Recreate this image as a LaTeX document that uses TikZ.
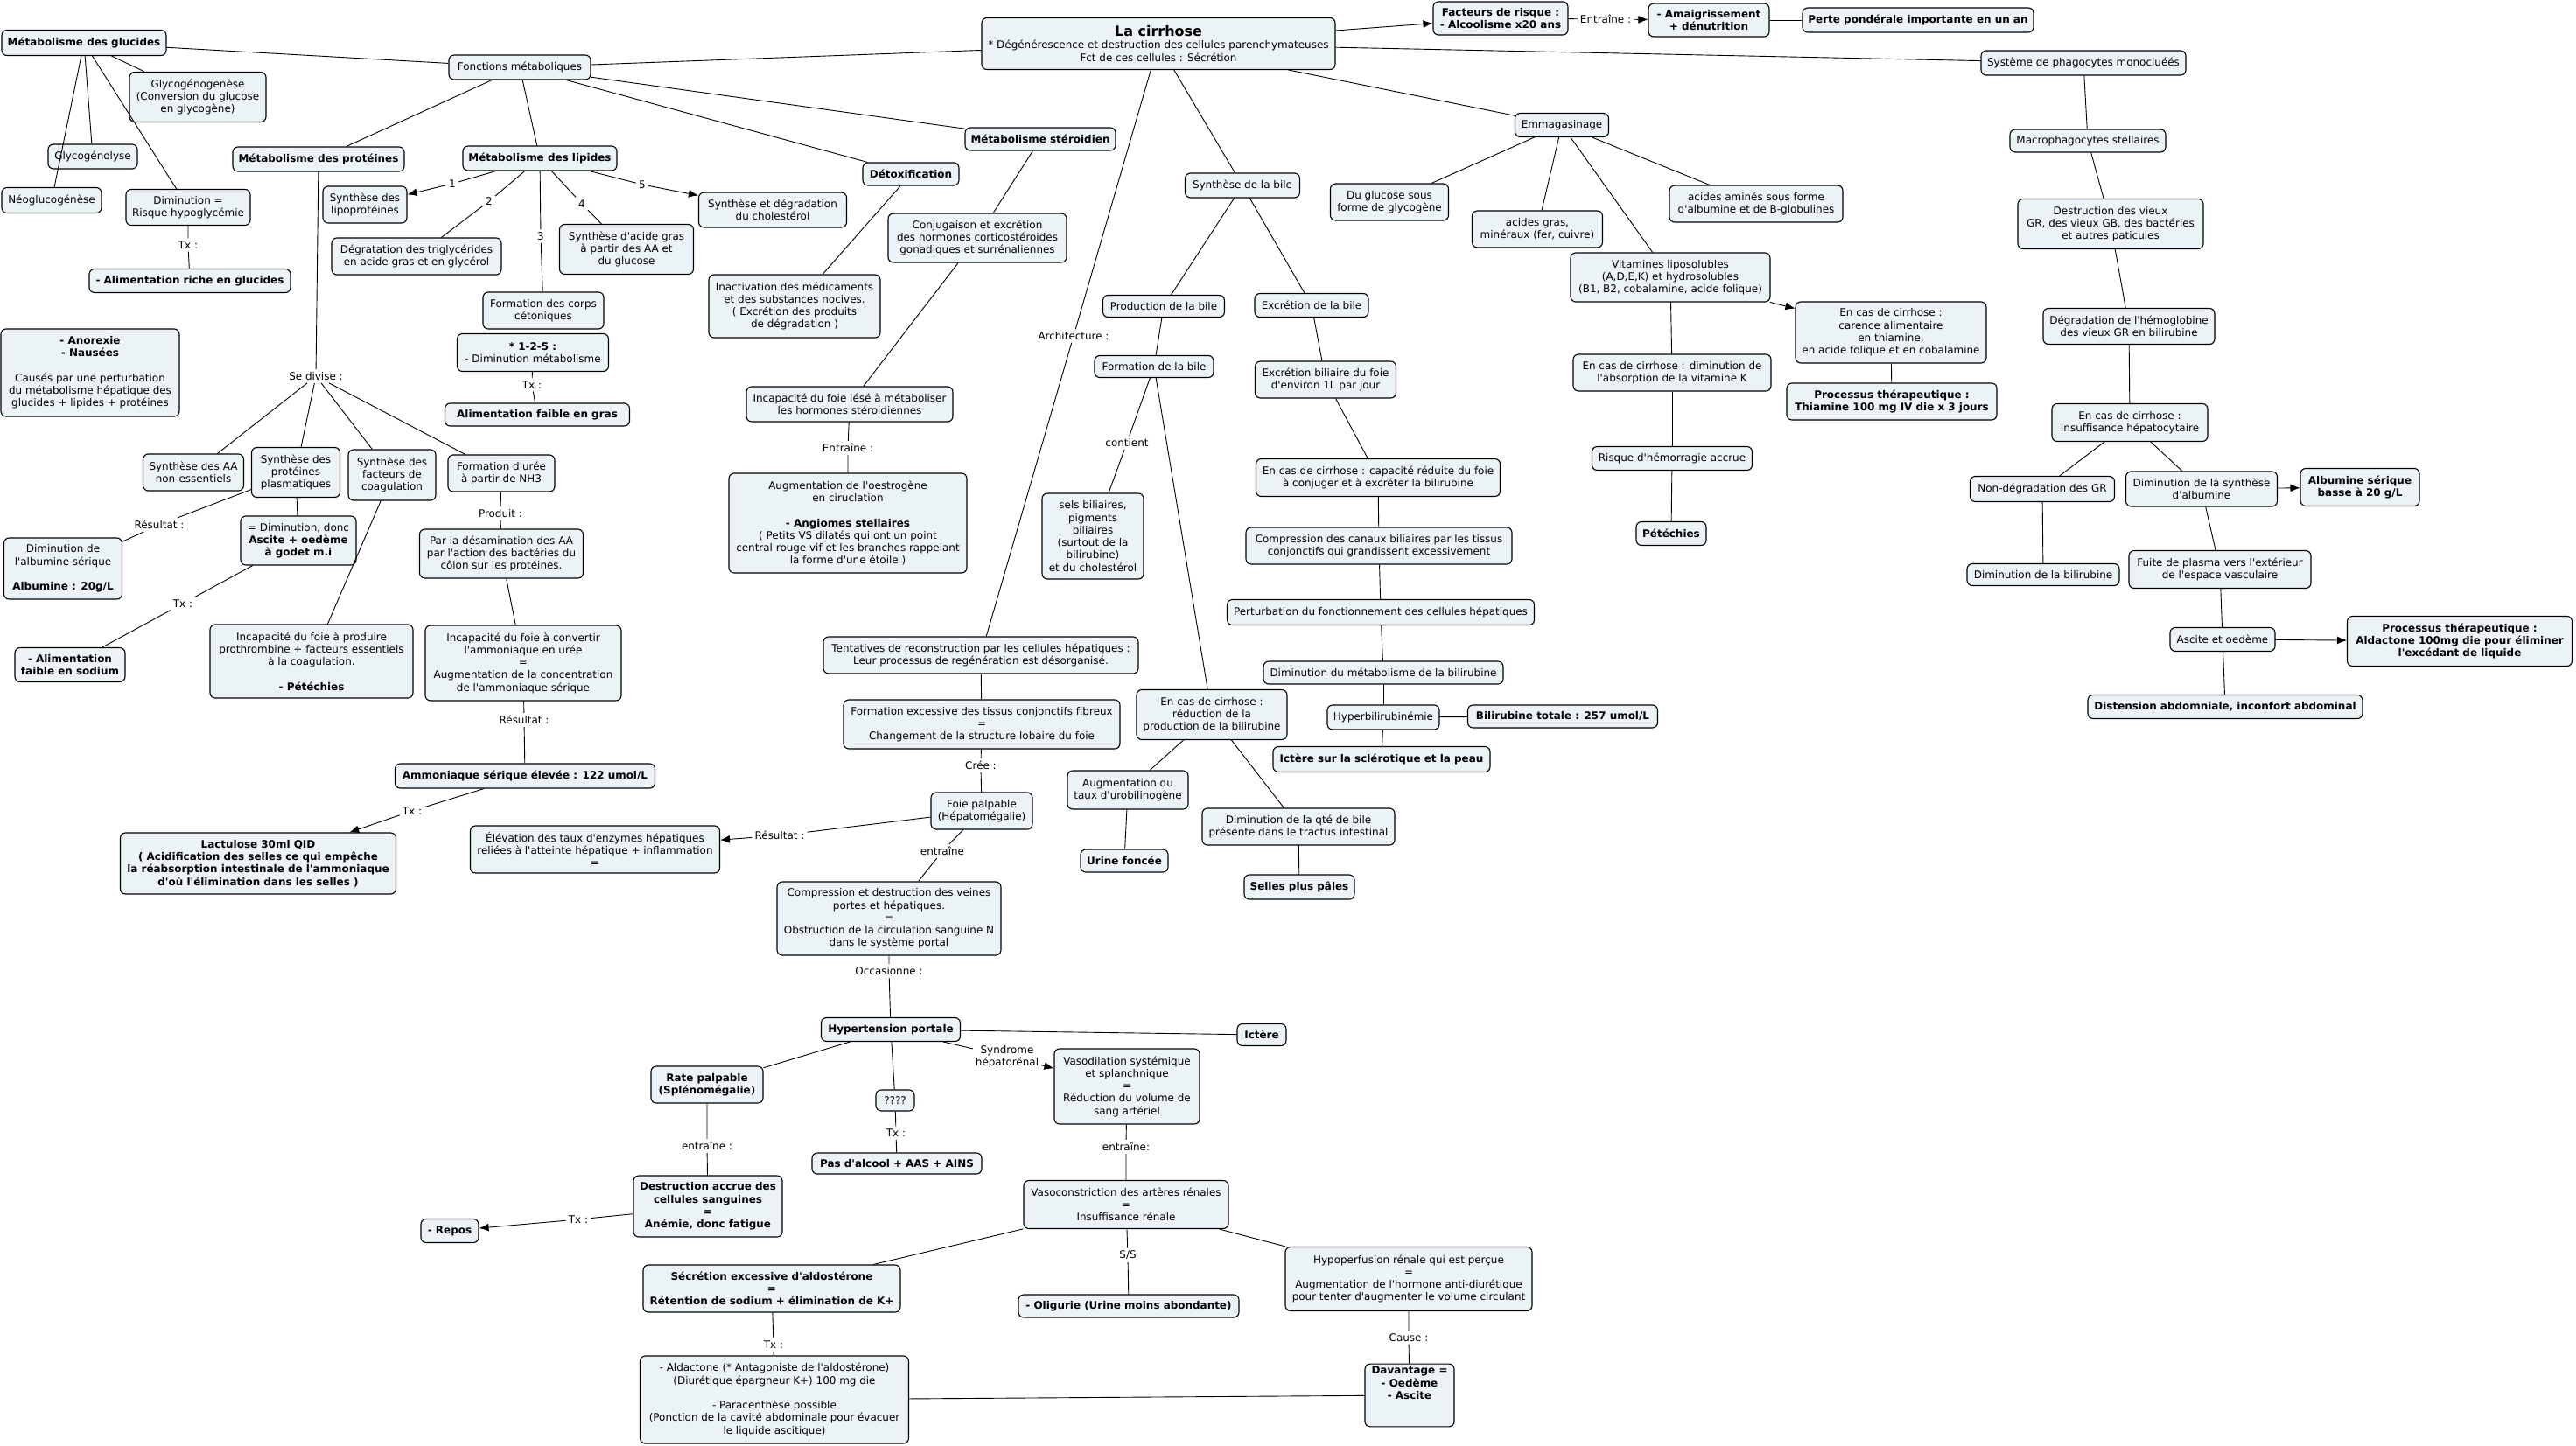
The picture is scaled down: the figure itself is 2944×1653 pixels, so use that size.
\documentclass[tikz,border=0pt]{standalone}
\usepackage{fontspec}
\setmainfont{DejaVu Sans}[Ligatures=TeXOff]
\usetikzlibrary{arrows.meta}
\definecolor{boxfill}{RGB}{236,243,246}
\newcommand\mapfont{\fontsize{12}{14.3}\selectfont}
\begin{document}
\begin{tikzpicture}[x=1bp,y=-1bp,
  box/.style={draw, line width=1.1bp, rounded corners=6bp, fill=boxfill, align=center,
              inner xsep=5bp, inner ysep=3bp, font=\mapfont},
  bbox/.style={box, font=\mapfont\bfseries},
  wh/.style n args={2}{minimum width=#1bp, minimum height=#2bp},
  lab/.style={inner sep=3bp, align=center, font=\mapfont},
  conn/.style={line width=0.9bp},
  arr/.style={conn, -{Latex[length=11bp,width=9bp]}}]
\fill[white] (0,0) rectangle (2944,1653);
\useasboundingbox (0,0) rectangle (2944,1653);

% ---------- left part ----------
\node[bbox, wh={188}{29}] (glu) at (96,49) {Métabolisme des glucides};
\node[box, wh={162}{28}] (fonct) at (594,77) {Fonctions métaboliques};
\node[box, wh={156}{57}] (ggen) at (226,111) {Glycogénogenèse\\(Conversion du glucose\\en glycogène)};
\node[box, wh={102}{28}] (glys) at (106,179) {Glycogénolyse};
\node[box, wh={114}{29}] (neo) at (59,229) {Néoglucogénèse};
\node[box, wh={142}{41}] (drisk) at (215,237) {Diminution =\\Risque hypoglycémie};
\node[lab] (ltxa) at (215,280) {Tx :};
\node[bbox, wh={230}{27}] (agluc) at (217,321) {- Alimentation riche en glucides};
\node[box, wh={204}{100}] (anor) at (103,426) {\textbf{- Anorexie}\\\textbf{- Nausées}\\[14.3bp]Causés par une perturbation\\du métabolisme hépatique des\\glucides + lipides + protéines};
\node[bbox, wh={196}{28}] (prot) at (364,182) {Métabolisme des protéines};
\node[bbox, wh={176}{28}] (lip) at (617,181) {Métabolisme des lipides};
\node[box, wh={96}{42}] (lipo) at (417,234) {Synthèse des\\lipoprotéines};
\node[box, wh={194}{42}] (trig) at (476,293) {Dégratation des triglycérides\\en acide gras et en glycérol};
\node[box, wh={153}{57}] (agras) at (716,285) {Synthèse d'acide gras\\à partir des AA et\\du glucose};
\node[box, wh={169}{40}] (chol) at (883,240) {Synthèse et dégradation\\du cholestérol};
\node[box, wh={138}{42}] (corps) at (621,355) {Formation des corps\\cétoniques};
\node[box, wh={173}{43}] (c125) at (609,403) {\textbf{* 1-2-5 :}\\- Diminution métabolisme};
\node[lab] (ltxb) at (608,440) {Tx :};
\node[bbox, wh={211}{26}] (agras2) at (614,474) {Alimentation faible en gras};
\node[lab] (lone) at (517,210) {1};
\node[lab] (ltwo) at (559,230) {2};
\node[lab] (lthree) at (618,270) {3};
\node[lab] (lfour) at (665,233) {4};
\node[lab] (lfive) at (734,211) {5};
\node[lab] (ldiv) at (361,430) {Se divise :};
\node[box, wh={115}{42}] (aane) at (221,540) {Synthèse des AA\\non-essentiels};
\node[box, wh={101}{57}] (pplas) at (338,540) {Synthèse des\\protéines\\plasmatiques};
\node[box, wh={100}{58}] (fcoag) at (448,543) {Synthèse des\\facteurs de\\coagulation};
\node[box, wh={122}{42}] (uree) at (573,541) {Formation d'urée\\à partir de NH3};
\node[lab] (lresa) at (182,600) {Résultat :};
\node[box, wh={135}{70}] (alb) at (72,650) {Diminution de\\l'albumine sérique\\[14.3bp]\textbf{Albumine : 20g/L}};
\node[box, wh={132}{56}] (asc) at (341,618) {= Diminution, donc\\\textbf{Ascite + oedème}\\\textbf{à godet m.i}};
\node[lab] (ltxc) at (209,690) {Tx :};
\node[bbox, wh={126}{39}] (asod) at (80,760) {- Alimentation\\faible en sodium};
\node[lab] (lprod) at (572,587) {Produit :};
\node[box, wh={187}{56}] (desam) at (573,633) {Par la désamination des AA\\par l'action des bactéries du\\côlon sur les protéines.};
\node[box, wh={232}{84}] (pete) at (356,756) {Incapacité du foie à produire\\prothrombine + facteurs essentiels\\à la coagulation.\\[14.3bp]\textbf{- Pétéchies}};
\node[box, wh={224}{86}] (iamm) at (598,758) {Incapacité du foie à convertir\\l'ammoniaque en urée\\=\\Augmentation de la concentration\\de l'ammoniaque sérique};
\node[lab] (lresb) at (599,823) {Résultat :};
\node[bbox, wh={297}{28}] (amm) at (600,887) {Ammoniaque sérique élevée : 122 umol/L};
\node[lab] (ltxd) at (471,927) {Tx :};
\node[bbox, wh={315}{70}] (lact) at (295,987) {Lactulose 30ml QID\\( Acidification des selles ce qui empêche\\la réabsorption intestinale de l'ammoniaque\\d'où l'élimination dans les selles )};
\node[box, wh={285}{54}] (enz) at (680,971) {Élévation des taux d'enzymes hépatiques\\reliées à l'atteinte hépatique + inflammation\\=};

% ---------- centre ----------
\node[box, wh={404}{59}] (cir) at (1324,50) {{\fontsize{16}{19}\selectfont\bfseries La cirrhose}\\ {}* Dégénérescence et destruction des cellules parenchymateuses\\Fct de ces cellules : Sécrétion};
\node[bbox, wh={172}{26}] (ster) at (1189,159) {Métabolisme stéroidien};
\node[bbox, wh={110}{26}] (detox) at (1041,199) {Détoxification};
\node[box, wh={204}{56}] (conj) at (1117,272) {Conjugaison et excrétion\\des hormones corticostéroides\\gonadiques et surrénaliennes};
\node[box, wh={196}{72}] (inact) at (908,350) {Inactivation des médicaments\\et des substances nocives.\\( Excrétion des produits\\de dégradation )};
\node[box, wh={236}{40}] (iste) at (971,462) {Incapacité du foie lésé à métaboliser\\les hormones stéroidiennes};
\node[lab] (lenta) at (969,512) {Entraîne :};
\node[box, wh={272}{114}] (oest) at (969,598) {Augmentation de l'oestrogène\\en ciruclation\\[14.3bp]\textbf{- Angiomes stellaires}\\( Petits VS dilatés qui ont un point\\central rouge vif et les branches rappelant\\la forme d'une étoile )};
\node[lab] (larch) at (1227,384) {Architecture :};
\node[box, wh={131}{28}] (sbile) at (1420,212) {Synthèse de la bile};
\node[box, wh={139}{25}] (pbile) at (1330,350) {Production de la bile};
\node[box, wh={136}{25}] (fbile) at (1319,419) {Formation de la bile};
\node[lab] (lcont) at (1288,506) {contient};
\node[box, wh={116}{98}] (sels) at (1249,613) {sels biliaires,\\pigments\\biliaires\\(surtout de la\\bilirubine)\\et du cholestérol};
\node[box, wh={130}{27}] (ebile) at (1499,349) {Excrétion de la bile};
\node[box, wh={161}{42}] (ebil2) at (1515,434) {Excrétion biliaire du foie\\d'environ 1L par jour};
\node[box, wh={279}{43}] (capred) at (1575,546) {En cas de cirrhose : capacité réduite du foie\\à conjuger et à excréter la bilirubine};
\node[box, wh={304}{42}] (compc) at (1576,624) {Compression des canaux biliaires par les tissus\\conjonctifs qui grandissent excessivement};
\node[box, wh={351}{29}] (pert) at (1578,700) {Perturbation du fonctionnement des cellules hépatiques};
\node[box, wh={274}{26}] (dmb) at (1581,769) {Diminution du métabolisme de la bilirubine};
\node[box, wh={128}{28}] (hyper) at (1581,820) {Hyperbilirubinémie};
\node[bbox, wh={217}{26}] (btot) at (1786,819) {Bilirubine totale : 257 umol/L};
\node[bbox, wh={248}{29}] (ictsc) at (1579,868) {Ictère sur la sclérotique et la peau};
\node[box, wh={220}{42}] (dqb) at (1484,945) {Diminution de la qté de bile\\présente dans le tractus intestinal};
\node[bbox, wh={126}{28}] (selles) at (1485,1014) {Selles plus pâles};
\node[box, wh={360}{42}] (tent) at (1121,749) {Tentatives de reconstruction par les cellules hépatiques :\\Leur processus de regénération est désorganisé.};
\node[box, wh={316}{56}] (fexc) at (1122,828) {Formation excessive des tissus conjonctifs fibreux\\=\\Changement de la structure lobaire du foie};
\node[lab] (lcree) at (1121,875) {Crée :};
\node[box, wh={116}{42}] (foie) at (1122,927) {Foie palpable\\(Hépatomégalie)};
\node[lab] (lresc) at (891,955) {Résultat :};
\node[lab] (lentb) at (1077,973) {entraîne};
\node[box, wh={256}{84}] (compv) at (1016,1050) {Compression et destruction des veines\\portes et hépatiques.\\=\\Obstruction de la circulation sanguine N\\dans le système portal};
\node[box, wh={172}{57}] (redb) at (1385,817) {En cas de cirrhose :\\réduction de la\\production de la bilirubine};
\node[box, wh={138}{44}] (uro) at (1289,903) {Augmentation du\\taux d'urobilinogène};
\node[bbox, wh={100}{26}] (urine) at (1285,984) {Urine foncée};

% ---------- right part ----------
\node[bbox, wh={154}{38}] (risk) at (1715,21) {Facteurs de risque :\\- Alcoolisme x20 ans};
\node[lab] (lentr) at (1835,22) {Entraîne :};
\node[bbox, wh={138}{38}] (amai) at (1953,23) {- Amaigrissement\\+ dénutrition};
\node[bbox, wh={264}{28}] (perte) at (2192,23) {Perte pondérale importante en un an};
\node[box, wh={107}{27}] (emm) at (1785,143) {Emmagasinage};
\node[box, wh={135}{42}] (dglu) at (1588,231) {Du glucose sous\\forme de glycogène};
\node[box, wh={149}{42}] (agm) at (1757,262) {acides gras,\\minéraux (fer, cuivre)};
\node[box, wh={198}{42}] (aam) at (2007,233) {acides aminés sous forme\\d'albumine et de B-globulines};
\node[box, wh={228}{56}] (vit) at (1909,317) {Vitamines liposolubles\\(A,D,E,K) et hydrosolubles\\(B1, B2, cobalamine, acide folique)};
\node[box, wh={218}{70}] (carence) at (2161,380) {En cas de cirrhose :\\carence alimentaire\\en thiamine,\\en acide folique et en cobalamine};
\node[box, wh={226}{42}] (vitk) at (1911,426) {En cas de cirrhose : diminution de\\l'absorption de la vitamine K};
\node[bbox, wh={240}{42}] (thia) at (2162,459) {Processus thérapeutique :\\Thiamine 100 mg IV die x 3 jours};
\node[box, wh={183}{27}] (hemo) at (1911,524) {Risque d'hémorragie accrue};
\node[bbox, wh={80}{27}] (pete2) at (1910,610) {Pétéchies};
\node[box, wh={234}{28}] (phago) at (2381,72) {Système de phagocytes monocluéés};
\node[box, wh={178}{26}] (macro) at (2386,161) {Macrophagocytes stellaires};
\node[box, wh={212}{57}] (dvieux) at (2412,256) {Destruction des vieux\\GR, des vieux GB, des bactéries\\et autres paticules};
\node[box, wh={196}{41}] (dhemo) at (2433,373) {Dégradation de l'hémoglobine\\des vieux GR en bilirubine};
\node[box, wh={178}{43}] (insuf) at (2434,483) {En cas de cirrhose :\\Insuffisance hépatocytaire};
\node[box, wh={165}{29}] (nongr) at (2334,559) {Non-dégradation des GR};
\node[box, wh={173}{40}] (dsa) at (2516,559) {Diminution de la synthèse\\d'albumine};
\node[bbox, wh={136}{43}] (albs) at (2697,557) {Albumine sérique\\basse à 20 g/L};
\node[box, wh={174}{25}] (dbili) at (2335,657) {Diminution de la bilirubine};
\node[box, wh={208}{43}] (fuite) at (2537,651) {Fuite de plasma vers l'extérieur\\de l'espace vasculaire};
\node[box, wh={120}{27}] (ascoe) at (2540,731) {Ascite et oedème};
\node[bbox, wh={257}{57}] (aldp) at (2811,733) {Processus thérapeutique :\\Aldactone 100mg die pour éliminer\\l'excédant de liquide};
\node[bbox, wh={314}{27}] (dist) at (2543,808) {Distension abdomniale, inconfort abdominal};

% ---------- bottom ----------
\node[lab] (locc) at (1016,1110) {Occasionne :};
\node[bbox, wh={159}{27}] (hpt) at (1018,1177) {Hypertension portale};
\node[bbox, wh={56}{25}] (ict) at (1442,1183) {Ictère};
\node[bbox, wh={128}{42}] (rate) at (808,1240) {Rate palpable\\(Splénomégalie)};
\node[lab] (lentc) at (808,1310) {entraîne :};
\node[bbox, wh={170}{70}] (dacc) at (809,1379) {Destruction accrue des\\cellules sanguines\\=\\Anémie, donc fatigue};
\node[lab] (ltxe) at (661,1394) {Tx :};
\node[bbox, wh={66}{27}] (repos) at (514,1407) {- Repos};
\node[box, wh={44}{24}] (qq) at (1023,1258) {????};
\node[lab] (ltxf) at (1024,1295) {Tx :};
\node[bbox, wh={194}{24}] (pasalc) at (1025,1330) {Pas d'alcool + AAS + AINS};
\node[lab] (lsyn) at (1151,1208) {Syndrome\\hépatorénal};
\node[box, wh={166}{86}] (vasod) at (1288,1242) {Vasodilation systémique\\et splanchnique\\=\\Réduction du volume de\\sang artériel};
\node[lab] (lentd) at (1287,1311) {entraîne:};
\node[box, wh={234}{55}] (vasoc) at (1287,1377) {Vasoconstriction des artères rénales\\=\\Insuffisance rénale};
\node[lab] (lss) at (1289,1435) {S/S};
\node[bbox, wh={252}{26}] (olig) at (1290,1493) {- Oligurie (Urine moins abondante)};
\node[bbox, wh={294}{54}] (secal) at (882,1473) {Sécrétion excessive d'aldostérone\\=\\Rétention de sodium + élimination de K+};
\node[lab] (ltxg) at (884,1537) {Tx :};
\node[box, wh={307}{100}] (aldac) at (885,1600) {- Aldactone (* Antagoniste de l'aldostérone)\\(Diurétique épargneur K+) 100 mg die\\[14.3bp]- Paracenthèse possible\\(Ponction de la cavité abdominale pour évacuer\\le liquide ascitique)};
\node[box, wh={282}{73}] (hypo) at (1610,1462) {Hypoperfusion rénale qui est perçue\\=\\Augmentation de l'hormone anti-diurétique\\pour tenter d'augmenter le volume circulant};
\node[lab] (lcause) at (1610,1529) {Cause :};
\node[bbox, wh={102}{70}] (dav) at (1611,1595) {Davantage =\\- Oedème\\- Ascite\\[14.3bp]};

% ---------- connectors ----------
\draw[conn] (glu) -- (fonct);
\draw[conn] (fonct) -- (cir);
\draw[conn] (glu) -- (ggen);
\draw[conn] (glu) -- (glys);
\draw[conn] (glu) -- (neo);
\draw[conn] (glu) -- (drisk);
\draw[conn] (drisk) -- (ltxa) (ltxa) -- (agluc);
\draw[conn] (fonct) -- (prot);
\draw[conn] (fonct) -- (lip);
\draw[conn] (fonct) -- (detox);
\draw[conn] (fonct) -- (ster);
\draw[conn] (lip) -- (lone);
\draw[arr] (lone) -- (lipo);
\draw[conn] (lip) -- (ltwo) (ltwo) -- (trig);
\draw[conn] (lip) -- (lthree) (lthree) -- (corps);
\draw[conn] (lip) -- (lfour) (lfour) -- (agras);
\draw[conn] (lip) -- (lfive);
\draw[arr] (lfive) -- (chol);
\draw[conn] (c125) -- (ltxb) (ltxb) -- (agras2);
\draw[conn] (prot) -- (ldiv);
\draw[conn] (ldiv) -- (aane) (ldiv) -- (pplas) (ldiv) -- (fcoag) (ldiv) -- (uree);
\draw[conn] (pplas) -- (lresa) (lresa) -- (alb);
\draw[conn] (pplas) -- (asc);
\draw[conn] (asc) -- (ltxc) (ltxc) -- (asod);
\draw[conn] (fcoag) -- (pete);
\draw[conn] (uree) -- (lprod) (lprod) -- (desam);
\draw[conn] (desam) -- (iamm);
\draw[conn] (iamm) -- (lresb) (lresb) -- (amm);
\draw[conn] (amm) -- (ltxd);
\draw[arr] (ltxd) -- (lact);
\draw[conn] (detox) -- (inact);
\draw[conn] (ster) -- (conj);
\draw[conn] (conj) -- (iste);
\draw[conn] (iste) -- (lenta) (lenta) -- (oest);
\draw[conn] (cir) -- (larch) (larch) -- (tent);
\draw[conn] (tent) -- (fexc);
\draw[conn] (fexc) -- (lcree) (lcree) -- (foie);
\draw[conn] (foie) -- (lresc);
\draw[arr] (lresc) -- (enz);
\draw[conn] (foie) -- (lentb) (lentb) -- (compv);
\draw[conn] (compv) -- (locc) (locc) -- (hpt);
\draw[conn] (hpt) -- (ict);
\draw[conn] (hpt) -- (rate);
\draw[conn] (rate) -- (lentc) (lentc) -- (dacc);
\draw[conn] (dacc) -- (ltxe);
\draw[arr] (ltxe) -- (repos);
\draw[conn] (hpt) -- (qq);
\draw[conn] (qq) -- (ltxf) (ltxf) -- (pasalc);
\draw[conn] (hpt) -- (lsyn);
\draw[arr] (lsyn) -- (vasod);
\draw[conn] (vasod) -- (lentd) (lentd) -- (vasoc);
\draw[conn] (vasoc) -- (secal);
\draw[conn] (vasoc) -- (lss) (lss) -- (olig);
\draw[conn] (vasoc) -- (hypo);
\draw[conn] (secal) -- (ltxg) (ltxg) -- (aldac);
\draw[conn] (aldac) -- (dav);
\draw[conn] (hypo) -- (lcause) (lcause) -- (dav);
\draw[conn] (cir) -- (sbile);
\draw[conn] (sbile) -- (pbile);
\draw[conn] (sbile) -- (ebile);
\draw[conn] (pbile) -- (fbile);
\draw[conn] (fbile) -- (lcont) (lcont) -- (sels);
\draw[conn] (fbile) -- (redb);
\draw[conn] (redb) -- (uro);
\draw[conn] (redb) -- (dqb);
\draw[conn] (uro) -- (urine);
\draw[conn] (dqb) -- (selles);
\draw[conn] (ebile) -- (ebil2);
\draw[conn] (ebil2) -- (capred);
\draw[conn] (capred) -- (compc);
\draw[conn] (compc) -- (pert);
\draw[conn] (pert) -- (dmb);
\draw[conn] (dmb) -- (hyper);
\draw[conn] (hyper) -- (ictsc);
\draw[conn] (hyper) -- (btot);
\draw[conn] (cir) -- (emm);
\draw[conn] (emm) -- (dglu);
\draw[conn] (emm) -- (agm);
\draw[conn] (emm) -- (vit);
\draw[conn] (emm) -- (aam);
\draw[arr] (vit) -- (carence);
\draw[conn] (vit) -- (vitk);
\draw[conn] (carence) -- (thia);
\draw[conn] (vitk) -- (hemo);
\draw[conn] (hemo) -- (pete2);
\draw[arr] (cir) -- (risk);
\draw[conn] (risk) -- (lentr);
\draw[arr] (lentr) -- (amai);
\draw[conn] (amai) -- (perte);
\draw[conn] (cir) -- (phago);
\draw[conn] (phago) -- (macro);
\draw[conn] (macro) -- (dvieux);
\draw[conn] (dvieux) -- (dhemo);
\draw[conn] (dhemo) -- (insuf);
\draw[conn] (insuf) -- (nongr);
\draw[conn] (insuf) -- (dsa);
\draw[conn] (nongr) -- (dbili);
\draw[arr] (dsa) -- (albs);
\draw[conn] (dsa) -- (fuite);
\draw[conn] (fuite) -- (ascoe);
\draw[conn] (ascoe) -- (dist);
\draw[arr] (ascoe) -- (aldp);
\end{tikzpicture}
\end{document}
